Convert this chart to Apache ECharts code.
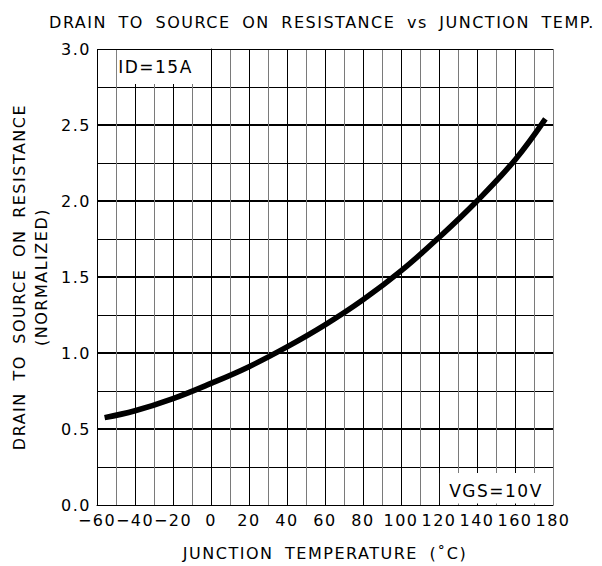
<!DOCTYPE html>
<html><head><meta charset="utf-8">
<script src="https://cdn.jsdelivr.net/npm/echarts@6/dist/echarts.min.js"></script>
<style>
html,body{margin:0;padding:0;background:#fff}
#c{width:602px;height:566px}
#c svg text{letter-spacing:1.5px;word-spacing:5px}
</style>
</head><body><div id="c"></div>
<script>
// Junction temperature (°C) and normalized on-resistance
const temps   = [-56, -40, -20, 0, 20, 40, 60, 80, 100, 120, 140, 160, 176];
const rdsNorm = [0.575, 0.62, 0.70, 0.80, 0.91, 1.04, 1.185, 1.35, 1.54, 1.76, 2.00, 2.27, 2.54];
const xRange = [-60, 180];
const xStep = 20;
const yRange = [0, 3];
const yStep = 0.5;
const titleText = 'DRAIN TO SOURCE ON RESISTANCE vs JUNCTION TEMP.';
const xName = 'JUNCTION TEMPERATURE (\u02DAC)';
const yName = 'DRAIN TO SOURCE ON RESISTANCE\n(NORMALIZED)';
const noteId = 'ID=15A';
const noteVgs = 'VGS=10V';

const FONT = 'DejaVu Sans';
const chart = echarts.init(document.getElementById('c'), null, {renderer: 'svg'});
chart.setOption({
  animation: false,
  backgroundColor: '#fff',
  title: {
    text: titleText, left: 317, top: 9, textAlign: 'center',
    textStyle: {fontFamily: FONT, fontSize: 16, fontWeight: 'normal', color: '#000'}
  },
  grid: {left: 97, right: 49, top: 49, bottom: 61, outerBoundsMode: 'none', containLabel: false},
  xAxis: {
    type: 'value', min: xRange[0], max: xRange[1], interval: xStep,
    name: xName, nameLocation: 'middle', nameGap: 40,
    nameTextStyle: {fontFamily: FONT, fontSize: 16, color: '#000'},
    axisLine: {show: true, lineStyle: {color: '#000', width: 1}},
    axisTick: {show: false},
    minorTick: {show: true, splitNumber: 2, length: 0, lineStyle: {opacity: 0}},
    axisLabel: {margin: 7, fontFamily: FONT, fontSize: 16, color: '#000',
      formatter: v => String(v).replace('-', '\u2212')},
    splitLine: {show: true, showMaxLine: false, lineStyle: {color: '#000', width: 1}},
    minorSplitLine: {show: true, lineStyle: {color: '#7a7a7a', width: 1}}
  },
  yAxis: {
    type: 'value', min: yRange[0], max: yRange[1], interval: yStep,
    name: yName, nameLocation: 'middle', nameRotate: 90, nameGap: 45,
    nameTextStyle: {fontFamily: FONT, fontSize: 16, color: '#000', lineHeight: 22},
    axisLine: {show: true, lineStyle: {color: '#000', width: 1}},
    axisTick: {show: true, length: 3, lineStyle: {color: '#000'}},
    minorTick: {show: true, splitNumber: 2, length: 3, lineStyle: {color: '#000'}},
    axisLabel: {margin: 6, fontFamily: FONT, fontSize: 16, color: '#000',
      formatter: v => v.toFixed(1)},
    splitLine: {show: true, showMaxLine: false, showMinLine: false, lineStyle: {color: '#000', width: 2}},
    minorSplitLine: {show: true, lineStyle: {color: '#000', width: 1}}
  },
  series: [{
    type: 'line',
    data: temps.map((t, i) => [t, rdsNorm[i]]),
    smooth: 0.4,
    showSymbol: false,
    lineStyle: {color: '#000', width: 5.5, cap: 'butt'},
    markArea: {
      silent: true,
      itemStyle: {color: '#fff', opacity: 1},
      label: {show: true, color: '#000', fontFamily: FONT, fontSize: 17},
      data: [
        [{xAxis: -49.5, yAxis: 2.77, name: noteId, label: {position: 'inside', offset: [-8, 0]}},
         {xAxis: -0.5, yAxis: 2.993}],
        [{xAxis: 120.5, yAxis: 0.01, name: noteVgs, label: {position: 'inside', offset: [0, 3]}},
         {xAxis: 179.5, yAxis: 0.21}]
      ]
    },
    markLine: {
      silent: true, symbol: 'none', label: {show: false},
      data: [
        {xAxis: xRange[1], lineStyle: {color: '#7a7a7a', width: 1, type: 'solid'}},
        {yAxis: yRange[1], lineStyle: {color: '#000', width: 1, type: 'solid'}}
      ]
    }
  }]
});
</script></body></html>
